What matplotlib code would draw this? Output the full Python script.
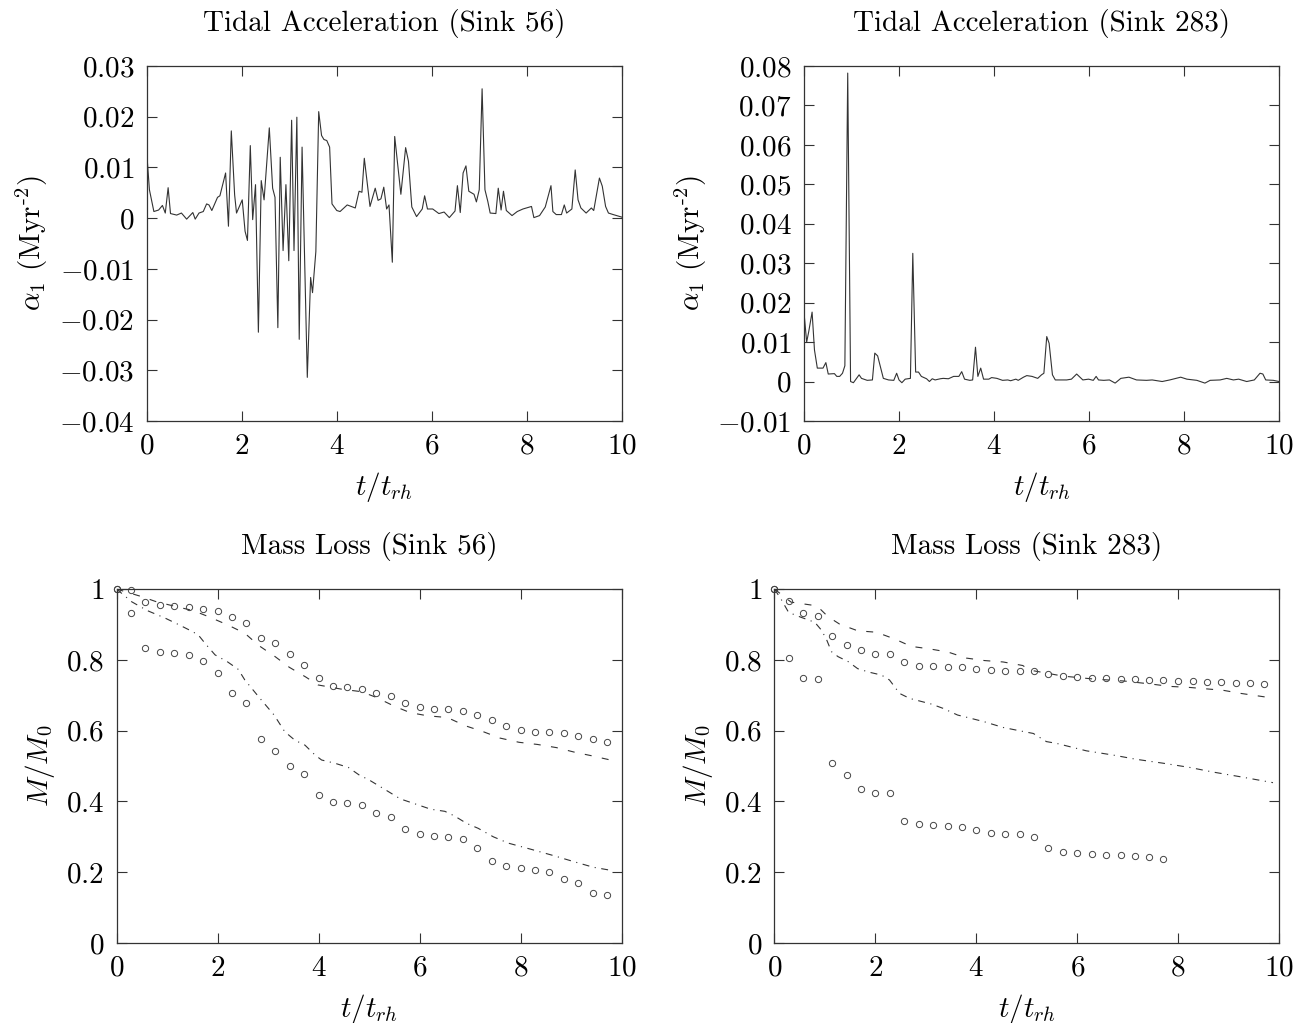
import matplotlib
matplotlib.use('Agg')
import matplotlib.pyplot as plt
from matplotlib.ticker import MultipleLocator, FuncFormatter

plt.rcParams['font.family'] = 'serif'
plt.rcParams['font.serif'] = ['cmr10']
plt.rcParams['mathtext.fontset'] = 'cm'
plt.rcParams['axes.formatter.use_mathtext'] = True
plt.rcParams['lines.scale_dashes'] = False

# tidal acceleration, sink 56 (top left)
t56 = [0, 0.056, 0.15, 0.25, 0.33, 0.39, 0.45, 0.5, 0.63, 0.73,
       0.84, 0.97, 1.02, 1.1, 1.19, 1.26, 1.31, 1.37, 1.49, 1.54,
       1.66, 1.72, 1.78, 1.85, 1.89, 2.01, 2.07, 2.12, 2.18, 2.23,
       2.29, 2.35, 2.41, 2.47, 2.58, 2.65, 2.70, 2.76, 2.81, 2.87,
       2.93, 2.99, 3.05, 3.10, 3.16, 3.21, 3.27, 3.38, 3.45, 3.49,
       3.56, 3.62, 3.68, 3.73, 3.79, 3.85, 3.90, 4.0, 4.07, 4.22,
       4.39, 4.47, 4.53, 4.58, 4.70, 4.81, 4.87, 4.93, 4.99, 5.05,
       5.10, 5.17, 5.22, 5.35, 5.45, 5.51, 5.58, 5.68, 5.8, 5.85,
       5.91, 6.02, 6.15, 6.26, 6.37, 6.49, 6.54, 6.6, 6.66, 6.72,
       6.78, 6.89, 6.94, 7.0, 7.06, 7.12, 7.18, 7.23, 7.35, 7.40,
       7.46, 7.51, 7.57, 7.69, 7.80, 7.92, 8.10, 8.15, 8.27, 8.39,
       8.51, 8.55, 8.62, 8.73, 8.79, 8.84, 8.95, 9.02, 9.08, 9.14,
       9.25, 9.36, 9.41, 9.53, 9.59, 9.66, 9.72, 9.82, 10.0]
acc56 = [0.0128, 0.0056, 0.0013, 0.0016, 0.0025, 0.0010, 0.0060, 0.0009, 0.0006, 0.0010,
         -0.0002, 0.0011, -0.0002, 0.0010, 0.0013, 0.0028, 0.0026, 0.0015, 0.0041, 0.0044,
         0.0089, -0.0016, 0.0172, 0.0046, 0.0010, 0.0036, -0.0026, -0.0044, 0.0143, -0.0003,
         0.0066, -0.0225, 0.0074, 0.0036, 0.0178, 0.0059, 0.0041, -0.0216, 0.0120, -0.0064,
         0.0066, -0.0084, 0.0193, -0.0064, 0.0199, -0.0239, 0.0140, -0.0314, -0.0117, -0.0147,
         -0.0066, 0.0210, 0.0163, 0.0155, 0.0153, 0.0140, 0.0028, 0.0015, 0.0013, 0.0026,
         0.0020, 0.0053, 0.0051, 0.0118, 0.0023, 0.0059, 0.0035, 0.0038, 0.0061, 0.0018,
         0.0026, -0.0087, 0.0161, 0.0047, 0.0139, 0.0112, 0.0022, 0.0003, 0.0018, 0.0044,
         0.0018, 0.0018, 0.0009, 0.0012, 0.0001, 0.0014, 0.0064, 0.0011, 0.0089, 0.0103,
         0.0053, 0.0047, 0.0032, 0.0056, 0.0255, 0.0056, 0.0033, 0.0010, 0.0009, 0.0059,
         0.0016, 0.0053, 0.0015, 0.0005, 0.0013, 0.0018, 0.0023, 0.0001, 0.0005, 0.0022,
         0.0064, 0.0013, 0.0007, 0.0007, 0.0026, 0.0010, 0.0018, 0.0095, 0.0036, 0.0020,
         0.0010, 0.0020, 0.0015, 0.0079, 0.0063, 0.0023, 0.0010, 0.0007, 0.0002]

# tidal acceleration, sink 283 (top right)
t283 = [0, 0.056, 0.10, 0.17, 0.22, 0.28, 0.40, 0.46, 0.51, 0.64,
        0.69, 0.75, 0.81, 0.86, 0.92, 0.98, 1.04, 1.16, 1.21, 1.33,
        1.44, 1.49, 1.55, 1.67, 1.78, 1.89, 1.95, 2.00, 2.06, 2.13,
        2.24, 2.29, 2.35, 2.41, 2.47, 2.58, 2.64, 2.70, 2.76, 2.87,
        2.93, 3.04, 3.15, 3.26, 3.32, 3.38, 3.49, 3.55, 3.61, 3.66,
        3.72, 3.78, 3.89, 3.95, 4.06, 4.18, 4.29, 4.35, 4.46, 4.51,
        4.62, 4.69, 4.80, 4.92, 5.00, 5.05, 5.11, 5.16, 5.23, 5.29,
        5.53, 5.63, 5.74, 5.87, 5.99, 6.09, 6.15, 6.20, 6.31, 6.43,
        6.55, 6.67, 6.84, 7.00, 7.21, 7.33, 7.54, 7.70, 7.93, 8.06,
        8.27, 8.44, 8.55, 8.76, 8.90, 9.04, 9.15, 9.32, 9.48, 9.60,
        9.66, 9.72, 9.88, 10.0]
acc283 = [0.0174, 0.0100, 0.0127, 0.0176, 0.0080, 0.0034, 0.0034, 0.0048, 0.0019, 0.0020,
          0.0013, 0.0013, 0.0021, 0.0040, 0.0782, 0.0000, -0.0003, 0.0017, 0.0008, 0.0003,
          0.0004, 0.0072, 0.0065, 0.0008, 0.0004, 0.0003, 0.0021, 0.0004, -0.0003, 0.0006,
          0.0008, 0.0325, 0.0024, 0.0024, 0.0013, 0.0007, 0.0000, 0.0007, 0.0004, 0.0007,
          0.0008, 0.0007, 0.0013, 0.0013, 0.0025, 0.0006, 0.0003, 0.0004, 0.0087, 0.0013,
          0.0034, 0.0006, 0.0006, 0.0010, 0.0008, 0.0003, 0.0004, 0.0002, 0.0006, 0.0003,
          0.0011, 0.0015, 0.0013, 0.0008, 0.0017, 0.0021, 0.0114, 0.0097, 0.0017, 0.0004,
          0.0004, 0.0006, 0.0019, 0.0004, 0.0006, 0.0003, 0.0013, 0.0004, 0.0003, 0.0004,
          -0.0004, 0.0008, 0.0011, 0.0004, 0.0003, 0.0004, 0.0000, 0.0004, 0.0011, 0.0006,
          0.0003, -0.0004, 0.0003, 0.0004, 0.0008, 0.0004, 0.0006, 0.0000, 0.0004, 0.0021,
          0.0019, 0.0004, 0.0003, 0.0000]

# mass loss: sampled (circles)
t_snap = [0, 0.29, 0.57, 0.86, 1.14, 1.43, 1.71, 2.0, 2.29, 2.57,
          2.86, 3.14, 3.43, 3.71, 4.0, 4.29, 4.57, 4.86, 5.14, 5.43,
          5.71, 6.0, 6.29, 6.57, 6.86, 7.14, 7.43, 7.71, 8.0, 8.29,
          8.57, 8.86, 9.14, 9.43, 9.71]
m56_hi = [1.0, 0.997, 0.964, 0.955, 0.952, 0.95, 0.944, 0.938, 0.92, 0.903,
          0.861, 0.848, 0.816, 0.785, 0.748, 0.726, 0.722, 0.717, 0.707, 0.698,
          0.677, 0.666, 0.661, 0.66, 0.656, 0.644, 0.63, 0.614, 0.602, 0.597,
          0.596, 0.592, 0.586, 0.576, 0.569]
m56_lo = [1.0, 0.931, 0.834, 0.823, 0.818, 0.814, 0.797, 0.762, 0.705, 0.677,
          0.575, 0.542, 0.501, 0.477, 0.418, 0.397, 0.395, 0.39, 0.366, 0.357,
          0.321, 0.307, 0.303, 0.3, 0.294, 0.267, 0.232, 0.218, 0.213, 0.206,
          0.2, 0.181, 0.17, 0.14, 0.135]
m283_hi = [1.0, 0.966, 0.931, 0.925, 0.867, 0.841, 0.829, 0.816, 0.816, 0.794,
           0.783, 0.782, 0.781, 0.779, 0.773, 0.771, 0.769, 0.769, 0.769, 0.759,
           0.754, 0.752, 0.75, 0.748, 0.746, 0.745, 0.743, 0.743, 0.741, 0.74,
           0.738, 0.736, 0.735, 0.734, 0.732]
m283_lo = [1.0, 0.806, 0.75, 0.747, 0.508, 0.475, 0.434, 0.423, 0.423, 0.344,
           0.335, 0.333, 0.331, 0.327, 0.319, 0.31, 0.308, 0.308, 0.3, 0.267,
           0.258, 0.255, 0.251, 0.25, 0.249, 0.246, 0.242, 0.237]

# mass loss: model curves
t56_dash = [0, 0.51, 0.79, 1.19, 1.52, 1.82, 2.21, 2.54, 2.82, 3.14,
            3.42, 3.74, 3.99, 4.46, 4.85, 5.14, 5.5, 5.81, 6.15, 6.55,
            6.9, 7.26, 7.59, 7.97, 8.33, 8.71, 9.07, 9.44, 9.87]
m56_dash = [1.0, 0.978, 0.964, 0.95, 0.939, 0.922, 0.898, 0.875, 0.84, 0.809,
            0.779, 0.752, 0.729, 0.717, 0.71, 0.694, 0.669, 0.651, 0.642, 0.637,
            0.614, 0.597, 0.579, 0.567, 0.561, 0.552, 0.539, 0.528, 0.514]
t56_dd = [0, 0.3, 0.61, 0.96, 1.25, 1.5, 1.62, 1.75, 1.95, 2.19,
          2.41, 2.54, 2.84, 3.12, 3.33, 3.53, 3.73, 3.93, 4.06, 4.32,
          4.59, 4.85, 4.95, 5.31, 5.62, 5.87, 6.22, 6.5, 6.69, 6.93,
          7.16, 7.46, 7.76, 8.2, 8.65, 9.05, 9.44, 9.84]
m56_dd = [1.0, 0.964, 0.939, 0.918, 0.898, 0.88, 0.87, 0.847, 0.814, 0.795,
          0.773, 0.743, 0.691, 0.644, 0.597, 0.573, 0.559, 0.531, 0.517, 0.508,
          0.496, 0.47, 0.465, 0.434, 0.407, 0.395, 0.378, 0.372, 0.359, 0.338,
          0.324, 0.3, 0.282, 0.265, 0.247, 0.23, 0.214, 0.204]
t283_dash = [0, 0.33, 0.72, 0.86, 1.06, 1.29, 1.65, 2.02, 2.38, 2.71,
             3.07, 3.44, 3.8, 4.16, 4.53, 4.92, 5.06, 5.72, 6.31, 6.94,
             7.5, 7.83, 8.23, 8.56, 8.89, 9.25, 9.78]
m283_dash = [1.0, 0.963, 0.955, 0.95, 0.922, 0.901, 0.882, 0.878, 0.859, 0.838,
             0.831, 0.822, 0.805, 0.798, 0.794, 0.784, 0.771, 0.754, 0.746, 0.74,
             0.731, 0.725, 0.722, 0.718, 0.714, 0.705, 0.694]
t283_dd = [0, 0.14, 0.28, 0.53, 0.8, 0.93, 1.03, 1.13, 1.26, 1.46,
           1.65, 1.88, 2.12, 2.28, 2.48, 2.68, 3.11, 3.34, 3.63, 3.83,
           4.16, 4.53, 4.95, 5.13, 5.39, 5.59, 6.18, 6.71, 7.17, 7.7,
           8.23, 8.69, 9.22, 9.88]
m283_dd = [1.0, 0.969, 0.934, 0.92, 0.906, 0.884, 0.858, 0.823, 0.809, 0.795,
           0.775, 0.765, 0.757, 0.743, 0.705, 0.691, 0.675, 0.663, 0.644, 0.637,
           0.625, 0.609, 0.597, 0.592, 0.569, 0.564, 0.543, 0.531, 0.519, 0.508,
           0.496, 0.483, 0.47, 0.453]

INK = '#333333'
FS = 21
fmt = FuncFormatter(lambda v, p: '$%g$' % v)


def style(ax, title, ylabel, ystep):
    ax.set_title(title, fontsize=FS, pad=25)
    ax.set_xlim(0, 10)
    ax.xaxis.set_major_locator(MultipleLocator(2))
    ax.yaxis.set_major_locator(MultipleLocator(ystep))
    ax.xaxis.set_major_formatter(fmt)
    ax.yaxis.set_major_formatter(fmt)
    ax.tick_params(direction='in', length=7.2, width=0.8, top=True, right=True,
                   labelsize=FS, pad=9, color=INK)
    for s in ax.spines.values():
        s.set_color(INK)
        s.set_linewidth(0.9)
    ax.set_xlabel(r'$t/t_{rh}$', fontsize=FS, labelpad=7)
    ax.set_ylabel(ylabel, fontsize=FS, labelpad=6)


fig = plt.figure(figsize=(13.01, 10.23), dpi=100)
ax1 = fig.add_axes([0.1128, 0.5885, 0.3651, 0.347])
ax2 = fig.add_axes([0.6180, 0.5885, 0.3651, 0.347])
ax3 = fig.add_axes([0.0896, 0.0782, 0.3882, 0.346])
ax4 = fig.add_axes([0.5953, 0.0782, 0.3878, 0.346])

acc_label = r'$\alpha_1$ (Myr$^{\text{-}2}$)'

ax1.plot(t56, acc56, color=INK, lw=0.8)
ax1.set_ylim(-0.04, 0.03)
style(ax1, 'Tidal Acceleration (Sink 56)', acc_label, 0.01)

ax2.plot(t283, acc283, color=INK, lw=0.8)
ax2.set_ylim(-0.01, 0.08)
style(ax2, 'Tidal Acceleration (Sink 283)', acc_label, 0.01)

panels = [(ax3, 'Mass Loss (Sink 56)', m56_hi, m56_lo, t56_dash, m56_dash, t56_dd, m56_dd),
          (ax4, 'Mass Loss (Sink 283)', m283_hi, m283_lo, t283_dash, m283_dash, t283_dd, m283_dd)]
for ax, title, hi, lo, td, md, tdd, mdd in panels:
    ax.plot(td, md, color=INK, lw=0.8, dashes=(5, 7.5))
    ax.plot(tdd, mdd, color=INK, lw=0.8, dashes=(5, 4, 0.8, 4))
    ax.plot(t_snap[:len(hi)], hi, 'o', mfc='none', mec='#444444', ms=4.5, mew=0.7, clip_on=False)
    ax.plot(t_snap[:len(lo)], lo, 'o', mfc='none', mec='#444444', ms=4.5, mew=0.7, clip_on=False)
    ax.set_ylim(0, 1)
    style(ax, title, r'$M/M_0$', 0.2)

fig.savefig('out.png', dpi=100)
